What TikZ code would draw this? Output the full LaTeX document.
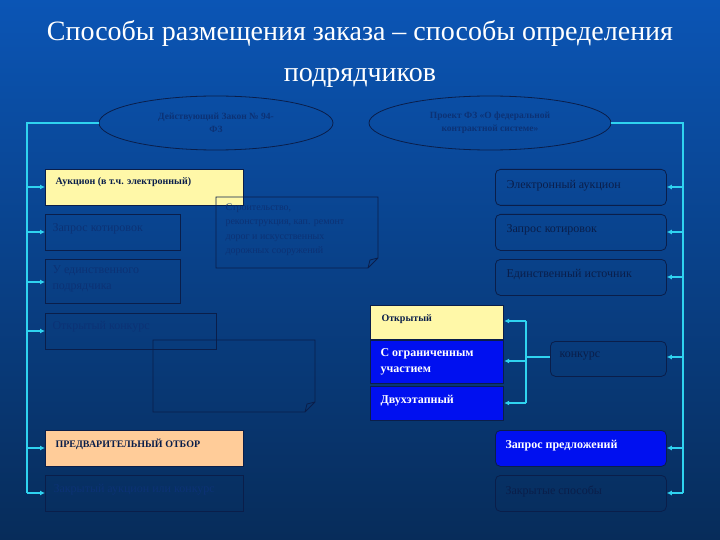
\documentclass[tikz,border=0pt]{standalone}
\usepackage{fontspec}
\setmainfont{Liberation Serif}
\usetikzlibrary{arrows.meta,shapes.geometric}
\definecolor{bgtop}{HTML}{0B55B5}
\definecolor{bgbot}{HTML}{072C5A}
\definecolor{cy}{HTML}{2FD3F0}
\definecolor{dk}{HTML}{0A1E4A}
\definecolor{faint}{HTML}{0C3275}
\definecolor{yel}{HTML}{FFF8A8}
\definecolor{peach}{HTML}{FFCC99}
\definecolor{bl}{HTML}{0010F0}
\begin{document}
\begin{tikzpicture}[x=1pt,y=-1pt,
  conn/.style={draw=cy,line width=1.5pt,-{Latex[length=5pt,width=5pt]}},
  line/.style={draw=cy,line width=1.5pt},
  lbox/.style={draw=dk,line width=0.8pt,anchor=north west,inner sep=0pt},
  rbox/.style={draw=dk,line width=0.8pt,rounded corners=5pt,anchor=north west,inner sep=0pt},
  txt/.style={font=\fontsize{12}{16}\selectfont,text=dk,anchor=west},
  oval/.style={ellipse,draw=dk,line width=0.8pt,inner sep=0pt,font=\bfseries\fontsize{9.5}{13}\selectfont,text=faint,align=center}]
\shade[top color=bgtop,bottom color=bgbot] (0,0) rectangle (720,540);
\useasboundingbox (0,0) rectangle (720,540);
\node[text=white,font=\fontsize{28}{32}\selectfont] (t1) at (360,33) {Способы размещения заказа – способы определения};
\node[text=white,font=\fontsize{28}{32}\selectfont] (t2) at (360,78) {подрядчиков};
\node[oval,minimum width=234,minimum height=54] (e1) at (216,123) {Действующий Закон № 94-\\ФЗ};
\node[oval,minimum width=242,minimum height=54] (e2) at (490,123) {Проект ФЗ «О федеральной\\контрактной системе»};
% left boxes
\node[lbox,fill=yel,minimum width=198,minimum height=36] (a1) at (45,169) {};
\node[txt,font=\bfseries\fontsize{10}{12}\selectfont,anchor=north west] at (52,174) {Аукцион (в т.ч. электронный)};
\node[lbox,minimum width=135,minimum height=36] (a2) at (45,214) {};
\node[txt,text=faint,anchor=north west] at (49,220) {Запрос котировок};
\node[lbox,minimum width=135,minimum height=44] (a3) at (45,259) {};
\node[txt,text=faint,anchor=north west,align=left] at (49,262) {У единственного\\подрядчика};
\node[lbox,minimum width=171,minimum height=36] (a4) at (45,313) {};
\node[txt,text=faint,anchor=north west] at (49,318) {Открытый конкурс};
\node[lbox,fill=peach,minimum width=198,minimum height=36] (a5) at (45,430) {};
\node[txt,font=\bfseries\fontsize{10}{12}\selectfont,anchor=north west] at (52,435) {ПРЕДВАРИТЕЛЬНЫЙ ОТБОР};
\node[lbox,minimum width=198,minimum height=36] (a6) at (45,475) {};
\node[txt,text=faint,anchor=north west] at (50,481) {Закрытый аукцион или конкурс};
% notes
\draw[dk,line width=0.8pt] (216,197) -- (378,197) -- (378,258) -- (368,268) -- (216,268) -- cycle (368,268) -- (370,260) -- (378,258);
\node[txt,text=faint,anchor=north west,align=left,font=\fontsize{10}{14.5}\selectfont] (n1) at (222,200) {Строительство,\\реконструкция, кап. ремонт\\дорог и искусственных\\дорожных сооружений};
\draw[dk,line width=0.8pt] (153,340) -- (315,340) -- (315,402) -- (305,412) -- (153,412) -- cycle (305,412) -- (307,404) -- (315,402);
% stack
\node[lbox,fill=yel,line width=1.2pt,minimum width=133,minimum height=34] (s1) at (370,305) {};
\node[txt,font=\bfseries\fontsize{10}{12}\selectfont,anchor=north west] at (378,311) {Открытый};
\node[lbox,fill=bl,line width=1.2pt,minimum width=133,minimum height=43] (s2) at (370,340) {};
\node[txt,text=white,font=\bfseries\fontsize{12}{16}\selectfont,anchor=north west,align=left] at (377,345) {С ограниченным\\участием};
\node[lbox,fill=bl,line width=1.2pt,minimum width=133,minimum height=34] (s3) at (370,386) {};
\node[txt,text=white,font=\bfseries\fontsize{12}{14}\selectfont,anchor=north west] at (377,392) {Двухэтапный};
% right boxes
\node[rbox,minimum width=171,minimum height=36] (b1) at (495,169) {};
\node[txt] at (503,186) {Электронный аукцион};
\node[rbox,minimum width=171,minimum height=36] (b2) at (495,214) {};
\node[txt] at (503,230) {Запрос котировок};
\node[rbox,minimum width=171,minimum height=36] (b3) at (495,259) {};
\node[txt] at (503,275) {Единственный источник};
\node[rbox,minimum width=116,minimum height=35] (b4) at (550,341) {};
\node[txt] at (556,356) {конкурс};
\node[rbox,fill=bl,minimum width=171,minimum height=36] (b5) at (495,430) {};
\node[txt,text=white,font=\bfseries\fontsize{12}{14}\selectfont] at (502,446) {Запрос предложений};
\node[rbox,minimum width=171,minimum height=36] (b6) at (495,475) {};
\node[txt] at (502,491) {Закрытые способы};
% connectors left
\coordinate (lt) at (27,123); \coordinate (lb) at (27,493);
\draw[line] (e1.west) -- (lt) -- (lb);
\foreach \n/\y in {a1/187,a2/232,a3/282,a4/331,a5/448,a6/493}{\draw[conn] (27,\y) -- (\n.west |- 0,\y);}
% connectors right
\coordinate (rt) at (683,123); \coordinate (rb) at (683,493);
\draw[line] (e2.east) -- (rt) -- (rb);
\foreach \n/\y in {b1/187,b2/232,b3/277,b4/357,b5/448,b6/493}{\draw[conn] (683,\y) -- (\n.east |- 0,\y);}
% konkurs
\coordinate (kt) at (526,321); \coordinate (kb) at (526,403);
\draw[line] (b4.west |- 0,357) -- (526,357);
\draw[line] (kt) -- (kb);
\draw[conn] (kt) -- (s1.east |- kt);
\draw[conn] (526,361) -- (s2.east |- 0,361);
\draw[conn] (kb) -- (s3.east |- kb);
\end{tikzpicture}
\end{document}
